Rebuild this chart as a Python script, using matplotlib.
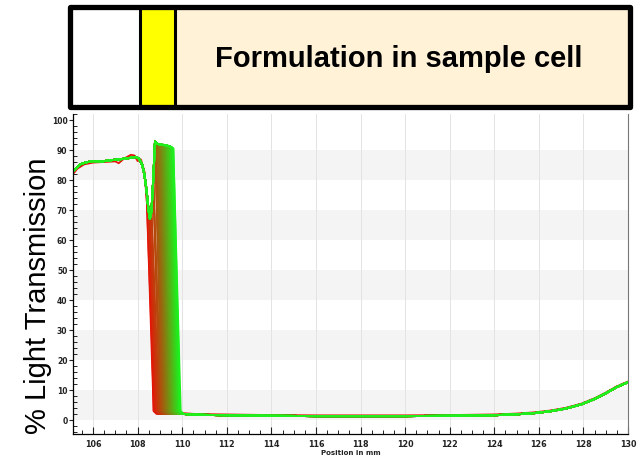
import numpy as np
import matplotlib
matplotlib.use("Agg")
import matplotlib.pyplot as plt
from matplotlib.colors import LinearSegmentedColormap
from matplotlib.patches import Rectangle
from matplotlib.ticker import MultipleLocator

# ---- data ----
# upper envelope of the transmission profile (position mm, % transmission)
env_x = [105.1, 105.25, 105.45, 105.7, 106.0, 106.4, 106.8, 107.2, 107.6, 107.9,
         108.05, 108.2, 108.3, 108.4, 108.48, 108.55, 108.62, 108.7, 108.78,
         108.85, 108.9, 108.95, 109.0, 109.05, 109.1, 109.15, 109.2, 109.25,
         109.3, 109.35, 109.4, 109.45, 109.5, 109.55, 109.6, 109.65]
env_y = [82.8, 84.0, 85.3, 85.9, 86.3, 86.2, 86.6, 86.9, 87.3, 87.7,
         87.2, 85.2, 82.0, 76.5, 70.5, 67.0, 69.5, 80.0, 92.8,
         92.3, 92.0, 91.9, 91.8, 91.8, 91.7, 91.7, 91.6, 91.6,
         91.5, 91.4, 91.3, 91.2, 91.0, 90.8, 90.5, 90.0]
# clear phase after the front
tail_x = [110.1, 110.5, 111.0, 112.0, 114.0, 116.0, 118.0, 120.0, 122.0, 124.0,
          125.0, 125.8, 126.5, 127.2, 127.9, 128.5, 129.0, 129.5, 130.0]
tail_y = [2.0, 1.8, 1.7, 1.6, 1.4, 1.3, 1.3, 1.3, 1.4, 1.6,
          1.9, 2.3, 2.9, 3.8, 5.2, 7.0, 8.9, 11.0, 12.6]
# first scan (red) profile on the left part
first_x = [105.1, 105.3, 105.6, 106.0, 106.5, 107.0, 107.15, 107.4, 107.7, 107.85,
           108.0, 108.15, 108.3, 108.4, 108.5, 108.6]
first_y = [82.0, 83.8, 85.2, 85.8, 86.0, 86.2, 85.6, 87.2, 88.4, 88.2,
           86.3, 86.8, 83.0, 74.0, 64.0, 40.0]
# sediment-front position of each scan (mm), early (red) to late (green)
fronts = [108.42, 108.45, 108.48, 108.5, 108.53, 108.56, 108.6, 108.63, 108.66, 108.7,
          108.73, 108.76, 108.79, 108.82, 108.85, 108.88, 108.91, 108.94, 108.97, 109.0,
          109.03, 109.06, 109.09, 109.12, 109.15, 109.18, 109.21, 109.24, 109.27, 109.3,
          109.33, 109.36, 109.39, 109.42, 109.45, 109.48, 109.51, 109.54, 109.57, 109.6,
          109.63]
drop_dx = [0.3, 0.42]
drop_y = [3.0, 2.1]

title_text = "Formulation in sample cell"
ylabel_text = "% Light Transmission"
xlabel_text = "Position in mm"

# ---- figure ----
W, H = 643, 460
fig = plt.figure(figsize=(W / 100, H / 100), dpi=100)
ax = fig.add_axes([73 / W, 1 - 435.4 / H, (628 - 73) / W, (435.4 - 115) / H])

for lo in (0, 20, 40, 60, 80):
    ax.axhspan(lo, lo + 10, color="#f4f4f4", zorder=0, lw=0)
for xv in range(106, 131, 2):
    ax.axvline(xv, color="#e3e3e3", lw=0.7, zorder=0.5)

cmap = LinearSegmentedColormap.from_list("rg", ["#e81208", "#8a7a10", "#1ef01e"])
ex = np.array(env_x)
ey = np.array(env_y)
tx = np.array(tail_x)
ty = np.array(tail_y)

# first scan
fx = list(first_x) + [108.72, 108.85] + list(tx[tx > 108.85])
fy = list(first_y) + [3.0, 2.3] + [v + 0.25 for v in ty[tx > 108.85]]
ax.plot(fx, fy, color="#e81208", lw=1.3, zorder=1)

n = len(fronts)
for i, f in enumerate(fronts):
    keep = ex <= f
    xs = list(ex[keep]) + [f + drop_dx[0], f + drop_dx[1]]
    ys = list(ey[keep]) + drop_y
    end = f + drop_dx[1]
    xs += list(tx[tx > end])
    ys += list(ty[tx > end])
    ax.plot(xs, ys, color=cmap(i / (n - 1)), lw=1.4, zorder=2 + i * 0.01,
            solid_joinstyle="round")

ax.set_xlim(105.1, 130)
ax.set_ylim(-4.8, 102)
ax.xaxis.set_major_locator(MultipleLocator(2))
ax.xaxis.set_minor_locator(MultipleLocator(0.5))
ax.yaxis.set_major_locator(MultipleLocator(10))
ax.yaxis.set_minor_locator(MultipleLocator(2))
ax.tick_params(axis="x", which="major", direction="in", length=5, width=0.8,
               labelsize=5.8, pad=3, colors="#222222")
ax.tick_params(axis="x", which="minor", direction="in", length=3, width=0.6)
ax.tick_params(axis="y", which="major", direction="out", length=3, width=0.8,
               labelsize=5.5, pad=1, colors="#222222")
ax.tick_params(axis="y", which="minor", direction="in", length=3, width=0.6)
for lab in ax.get_xticklabels() + ax.get_yticklabels():
    lab.set_fontweight("bold")
ax.spines["top"].set_visible(False)
ax.spines["right"].set_color("#777777")
ax.spines["right"].set_linewidth(0.8)
ax.spines["left"].set_linewidth(0.9)
ax.spines["bottom"].set_linewidth(0.9)
ax.set_xlabel(xlabel_text, fontsize=5, fontweight="bold", labelpad=1, color="#222222")

fig.text(38 / W, 1 - 296 / H, ylabel_text, rotation=90, fontsize=21,
         family="Liberation Sans", ha="center", va="center")

# sample cell box on top
def fr(x0, y0, x1, y1, **kw):
    return Rectangle((x0 / W, 1 - y1 / H), (x1 - x0) / W, (y1 - y0) / H,
                     transform=fig.transFigure, **kw)

fig.patches.append(fr(70, 8, 630, 108, facecolor="white", edgecolor="none", zorder=5))
fig.patches.append(fr(139, 8, 175, 108, facecolor="#ffff00", edgecolor="none", zorder=5))
fig.patches.append(fr(175, 8, 630, 108, facecolor="#fff2d6", edgecolor="none", zorder=5))
for xd in (139.5, 175):
    fig.lines.append(plt.Line2D([xd / W, xd / W], [1 - 108 / H, 1 - 8 / H],
                                transform=fig.transFigure, color="black", lw=2.2, zorder=6))
fig.patches.append(fr(70, 8, 630, 108, facecolor="none", edgecolor="black", lw=3.8,
                      zorder=7, joinstyle="round"))
fig.text(399 / W, 1 - 59 / H, title_text, fontsize=21, fontweight="bold",
         family="Liberation Sans", ha="center", va="center", zorder=8)

fig.savefig("out.png", dpi=100)
